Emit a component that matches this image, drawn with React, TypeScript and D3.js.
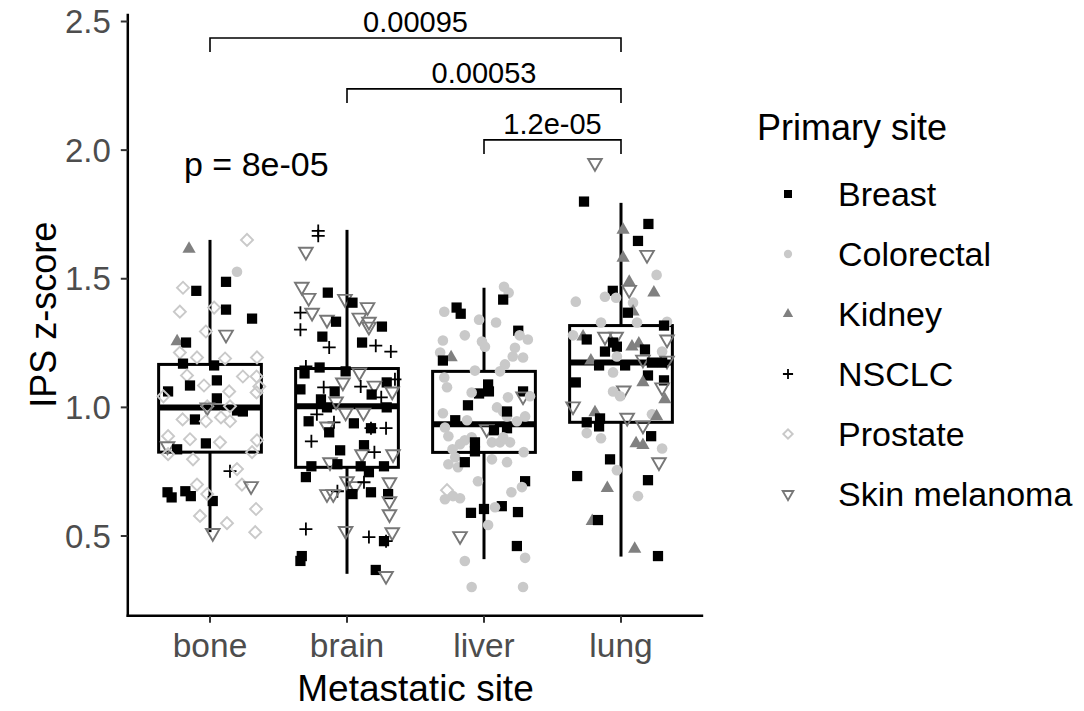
import React from 'react'
import * as d3 from 'd3'

// metastatic sites (x categories) and primary sites (shape legend)
const categories = ['bone', 'brain', 'liver', 'lung']
const sites = ['Breast', 'Colorectal', 'Kidney', 'NSCLC', 'Prostate', 'Skin melanoma']

// box statistics per metastatic site
const whiskerLow = [0.515, 0.353, 0.41, 0.42]
const q1 = [0.826, 0.767, 0.825, 0.942]
const median = [1.0, 1.004, 0.934, 1.174]
const q3 = [1.167, 1.151, 1.14, 1.318]
const whiskerHigh = [1.651, 1.69, 1.465, 1.795]

// points: [primary site index, jitter (category units), IPS z-score]
const bonePts = [
  [2, -0.153, 1.616], [4, 0.27, 1.651], [1, 0.197, 1.527], [0, 0.117, 1.488], [4, -0.197, 1.465], [0, -0.1, 1.453],
  [4, -0.22, 1.372], [4, 0.03, 1.388], [0, 0.117, 1.38], [0, 0.307, 1.345], [5, 0.117, 1.283], [4, -0.03, 1.295],
  [2, -0.24, 1.256], [0, -0.175, 1.252], [4, -0.22, 1.213], [4, -0.095, 1.194], [4, 0.11, 1.19], [4, 0.343, 1.194],
  [0, -0.197, 1.17], [0, 0.03, 1.163], [4, -0.168, 1.124], [4, 0.24, 1.12], [4, 0.34, 1.12], [0, 0.05, 1.105],
  [0, -0.146, 1.085], [4, -0.044, 1.085], [4, 0.36, 1.081], [0, -0.306, 1.062], [4, 0.14, 1.062], [4, 0.34, 1.058],
  [4, -0.34, 1.043], [0, 0.05, 1.035], [4, -0.02, 1.004], [5, -0.02, 1.0], [0, 0.197, 0.988], [0, 0.24, 0.984],
  [4, 0.146, 1.004], [4, -0.2, 0.953], [0, -0.11, 0.953], [4, -0.03, 0.946], [4, 0.08, 0.961], [4, 0.146, 0.946],
  [4, -0.306, 0.888], [4, -0.146, 0.876], [0, -0.03, 0.86], [4, 0.073, 0.864], [4, 0.343, 0.872], [5, -0.31, 0.849],
  [0, -0.24, 0.837], [4, -0.124, 0.798], [4, 0.307, 0.826], [4, -0.306, 0.818], [3, 0.146, 0.752], [4, 0.197, 0.76],
  [4, 0.233, 0.7], [5, 0.3, 0.694], [0, -0.31, 0.67], [0, -0.28, 0.65], [0, -0.18, 0.674], [0, -0.14, 0.655],
  [4, -0.095, 0.7], [0, 0.02, 0.636], [4, -0.02, 0.663], [4, 0.336, 0.605], [4, -0.073, 0.578], [4, 0.124, 0.55],
  [4, 0.33, 0.515], [5, 0.02, 0.512]
]
const brainPts = [
  [3, -0.21, 1.686], [3, -0.21, 1.667], [5, -0.3, 1.605], [5, -0.33, 1.469], [0, -0.14, 1.446], [5, -0.28, 1.426],
  [5, -0.015, 1.422], [0, 0.04, 1.407], [5, 0.15, 1.39], [5, 0.09, 1.349], [5, 0.16, 1.333], [5, 0.16, 1.314],
  [3, -0.34, 1.368], [5, -0.255, 1.368], [5, -0.146, 1.341], [0, -0.08, 1.333], [3, -0.34, 1.302], [0, 0.255, 1.314],
  [0, -0.18, 1.275], [0, 0.11, 1.252], [3, -0.13, 1.233], [3, 0.21, 1.24], [3, 0.32, 1.217], [0, -0.31, 1.132],
  [0, -0.2, 1.155], [0, -0.01, 1.14], [5, 0.09, 1.136], [3, -0.3, 1.159], [3, 0.35, 1.109], [0, 0.29, 1.097],
  [0, -0.34, 1.07], [3, -0.17, 1.078], [5, -0.03, 1.097], [3, 0.1, 1.081], [5, 0.2, 1.085], [5, 0.33, 1.062],
  [0, -0.09, 1.062], [0, 0.18, 1.05], [3, 0.25, 1.039], [0, -0.19, 1.031], [5, -0.08, 1.023], [0, -0.146, 1.0],
  [0, 0.29, 1.0], [5, -0.01, 0.98], [5, 0.12, 0.98], [3, -0.22, 0.973], [0, -0.28, 0.946], [3, -0.095, 0.942],
  [5, -0.146, 0.926], [0, -0.13, 0.903], [0, 0.05, 0.938], [0, 0.175, 0.919], [3, 0.175, 0.919], [3, 0.285, 0.919],
  [3, -0.26, 0.868], [0, -0.05, 0.833], [0, 0.124, 0.853], [5, 0.11, 0.818], [3, 0.2, 0.826], [5, 0.336, 0.818],
  [5, -0.124, 0.787], [0, -0.07, 0.779], [0, -0.26, 0.771], [0, 0.1, 0.771], [0, 0.16, 0.748], [0, 0.27, 0.771],
  [0, -0.3, 0.729], [5, 0, 0.713], [5, 0.06, 0.694], [3, 0.124, 0.709], [5, 0.31, 0.709], [3, -0.07, 0.674],
  [5, -0.146, 0.663], [5, -0.1, 0.663], [0, 0.04, 0.663], [0, 0.175, 0.67], [0, 0.3, 0.663], [5, 0.31, 0.636],
  [5, 0.31, 0.585], [3, -0.3, 0.527], [5, -0.01, 0.52], [5, 0.33, 0.515], [3, 0.16, 0.496], [3, 0.285, 0.48],
  [0, 0.27, 0.48], [0, -0.33, 0.422], [0, -0.34, 0.403], [0, 0.21, 0.368], [5, 0.285, 0.345]
]
const liverPts = [
  [1, 0.146, 1.469], [1, 0.18, 1.446], [0, 0.14, 1.419], [0, -0.2, 1.388], [0, -0.17, 1.364], [1, -0.29, 1.372],
  [1, -0.036, 1.341], [1, 0.088, 1.33], [0, 0.25, 1.298], [1, -0.14, 1.28], [1, 0.26, 1.28], [1, 0.32, 1.264],
  [1, -0.3, 1.26], [1, -0.015, 1.256], [1, 0.007, 1.236], [1, 0.226, 1.232], [1, -0.32, 1.213], [2, -0.24, 1.194],
  [0, -0.3, 1.182], [1, 0.21, 1.198], [1, 0.285, 1.194], [1, 0.153, 1.167], [1, 0.117, 1.14], [1, -0.066, 1.143],
  [1, -0.29, 1.116], [1, -0.27, 1.078], [0, 0.03, 1.089], [0, 0.036, 1.062], [0, -0.036, 1.054], [1, -0.09, 1.058],
  [0, 0.285, 1.062], [5, 0.285, 1.043], [1, 0.336, 1.043], [1, 0.175, 1.039], [0, -0.117, 1.008], [1, 0.095, 1.0],
  [1, 0.14, 0.984], [1, 0.168, 0.965], [1, 0.24, 0.946], [1, 0.3, 0.965], [0, 0.168, 0.984], [1, -0.3, 0.977],
  [0, -0.21, 0.95], [1, -0.124, 0.95], [5, 0.02, 0.915], [0, 0.073, 0.911], [0, 0.168, 0.919], [1, -0.285, 0.922],
  [1, -0.26, 0.888], [1, -0.09, 0.884], [1, -0.14, 0.872], [1, -0.175, 0.857], [1, -0.23, 0.837], [1, -0.21, 0.806],
  [1, -0.26, 0.779], [1, -0.19, 0.767], [0, -0.066, 0.864], [0, -0.066, 0.829], [1, 0.058, 0.864], [1, 0.117, 0.864],
  [1, 0.19, 0.864], [1, 0.14, 0.884], [1, 0.29, 0.826], [1, 0.058, 0.798], [1, 0.168, 0.787], [0, -0.14, 0.787],
  [1, -0.044, 0.713], [0, 0.3, 0.713], [1, 0.277, 0.69], [1, 0.2, 0.67], [4, -0.27, 0.678], [1, -0.285, 0.643],
  [1, -0.226, 0.655], [1, -0.175, 0.647], [0, -0.095, 0.59], [0, 0, 0.605], [0, 0.13, 0.616], [1, 0.08, 0.612],
  [0, 0.248, 0.593], [1, 0.03, 0.543], [5, -0.175, 0.5], [0, 0.24, 0.461], [1, 0.3, 0.415], [1, -0.14, 0.403],
  [1, -0.09, 0.302], [1, 0.285, 0.302]
]
const lungPts = [
  [5, -0.19, 1.95], [0, -0.27, 1.8], [0, 0.2, 1.713], [2, 0.015, 1.69], [0, 0.124, 1.647], [5, 0.19, 1.593],
  [2, 0.015, 1.581], [1, 0.26, 1.515], [2, 0.06, 1.488], [5, 0.06, 1.457], [2, 0.24, 1.446], [0, -0.06, 1.453],
  [1, -0.117, 1.43], [1, -0.036, 1.426], [1, -0.33, 1.411], [1, 0.088, 1.407], [2, 0.088, 1.372], [0, 0.05, 1.368],
  [1, -0.146, 1.33], [1, 0.117, 1.33], [1, 0.336, 1.333], [0, 0.314, 1.318], [1, -0.35, 1.28], [2, -0.277, 1.275],
  [5, -0.117, 1.275], [5, -0.036, 1.275], [0, -0.25, 1.264], [0, -0.058, 1.252], [0, -0.03, 1.236], [5, 0.336, 1.264],
  [2, 0.08, 1.236], [2, 0.13, 1.248], [0, -0.117, 1.217], [0, 0.175, 1.225], [1, 0.3, 1.217], [1, -0.03, 1.198],
  [5, 0.16, 1.186], [2, -0.22, 1.182], [5, 0.336, 1.182], [0, -0.16, 1.163], [0, 0.03, 1.163], [0, 0.226, 1.174],
  [0, 0.3, 1.174], [1, -0.058, 1.136], [0, 0.197, 1.124], [2, 0.16, 1.097], [0, -0.33, 1.097], [0, 0.314, 1.105],
  [5, 0.3, 1.078], [5, 0.02, 1.066], [1, -0.058, 1.062], [1, -0.007, 1.043], [2, 0.32, 1.031], [5, -0.35, 1.004],
  [2, -0.19, 0.98], [1, 0.226, 0.973], [2, 0.26, 0.965], [5, 0.045, 0.96], [0, -0.25, 0.942], [0, -0.153, 0.957],
  [0, -0.16, 0.926], [5, 0.16, 0.93], [1, -0.25, 0.9], [1, -0.146, 0.88], [0, 0.22, 0.888], [2, 0.11, 0.86],
  [2, 0.16, 0.853], [1, 0.3, 0.84], [5, 0.277, 0.787], [0, -0.08, 0.798], [1, -0.03, 0.756], [0, -0.32, 0.733],
  [0, 0.197, 0.717], [2, -0.1, 0.686], [1, 0.124, 0.655], [2, -0.21, 0.558], [0, -0.168, 0.562], [2, 0.1, 0.45],
  [0, 0.27, 0.422]
]
const points = [bonePts, brainPts, liverPts, lungPts]

// pairwise comparisons: [from group, to group, label, bracket level]
const comparisons = [
  [1, 4, '0.00095', 2.436],
  [2, 4, '0.00053', 2.238],
  [3, 4, '1.2e-05', 2.04]
]
const globalLabel = 'p = 8e-05'
const yTicks = [0.5, 1.0, 1.5, 2.0, 2.5]

const W = 1084
const H = 711
const FONT = '"Liberation Sans", Arial, Helvetica, sans-serif'

const x = d3.scaleLinear().domain([1, 4]).range([210, 621])
const y = d3.scaleLinear().domain([0.5, 2.5]).range([536, 21.5])
const xLimits = [0.4, 4.6]
const yLimits = [0.19, 2.53]

const siteColor = ['#000000', '#c9c9c9', '#808080', '#000000', '#c9c9c9', '#777777']

const squarePath = (s) => d3.symbol().type(d3.symbolSquare).size(s)()
const trianglePath = (s) => d3.symbol().type(d3.symbolTriangle).size(s)()

const Marker = ({ site, cx, cy, k = 1 }) => {
  const col = siteColor[site]
  const t = `translate(${cx},${cy})`
  if (site === 0) return <path transform={t} d={squarePath(105 * k * k)} fill={col} />
  if (site === 1) return <circle cx={cx} cy={cy} r={5.3 * k} fill={col} />
  if (site === 2) return <path transform={t} d={trianglePath(76 * k * k)} fill={col} />
  if (site === 3) {
    const a = 6.5 * k
    return <path transform={t} d={`M${-a},0H${a}M0,${-a}V${a}`} stroke={col} strokeWidth={1.8} fill="none" />
  }
  if (site === 4)
    return <path transform={t + ' rotate(45)'} d={squarePath(72 * k * k)} fill="none" stroke={col} strokeWidth={1.9} />
  return <path transform={t + ' rotate(180)'} d={trianglePath(80 * k * k)} fill="none" stroke={col} strokeWidth={1.9} />
}

export default function App() {
  const boxHalf = 0.375
  return (
    <svg width={W} height={H} style={{ display: 'block', background: '#fff', margin: -8 }} fontFamily={FONT}>
      {/* boxes */}
      {categories.map((c, i) => {
        const cx = x(i + 1)
        const x0 = x(i + 1 - boxHalf)
        const x1 = x(i + 1 + boxHalf)
        return (
          <g key={c} stroke="#000" fill="none">
            <line x1={cx} x2={cx} y1={y(whiskerHigh[i])} y2={y(q3[i])} strokeWidth={3} />
            <line x1={cx} x2={cx} y1={y(q1[i])} y2={y(whiskerLow[i])} strokeWidth={3} />
            <rect x={x0} y={y(q3[i])} width={x1 - x0} height={y(q1[i]) - y(q3[i])} strokeWidth={3} fill="#fff" />
            <line x1={x0} x2={x1} y1={y(median[i])} y2={y(median[i])} strokeWidth={6} />
          </g>
        )
      })}

      {/* jittered points */}
      {points.map((pts, i) =>
        pts.map((p, j) => <Marker key={i + '-' + j} site={p[0]} cx={x(i + 1 + p[1])} cy={y(p[2])} />)
      )}

      {/* axes */}
      <line x1={x(xLimits[0])} x2={x(xLimits[0])} y1={y(yLimits[1])} y2={y(yLimits[0]) + 1.2} stroke="#000" strokeWidth={2.5} />
      <line x1={x(xLimits[0]) - 1.2} x2={x(xLimits[1])} y1={y(yLimits[0])} y2={y(yLimits[0])} stroke="#000" strokeWidth={2.5} />
      {yTicks.map((t) => (
        <g key={t}>
          <line x1={x(xLimits[0]) - 7} x2={x(xLimits[0])} y1={y(t)} y2={y(t)} stroke="#333" strokeWidth={2} />
          <text x={x(xLimits[0]) - 17} y={y(t)} dy="0.35em" textAnchor="end" fontSize={33} fill="#4d4d4d">
            {d3.format('.1f')(t)}
          </text>
        </g>
      ))}
      {categories.map((c, i) => (
        <g key={c}>
          <line x1={x(i + 1)} x2={x(i + 1)} y1={y(yLimits[0])} y2={y(yLimits[0]) + 7} stroke="#333" strokeWidth={2} />
          <text x={x(i + 1)} y={657} textAnchor="middle" fontSize={33.5} fill="#4d4d4d">
            {c}
          </text>
        </g>
      ))}
      <text x={(x(xLimits[0]) + x(xLimits[1])) / 2} y={701} textAnchor="middle" fontSize={37} fill="#000">
        Metastatic site
      </text>
      <text
        transform={`translate(56,${(y(yLimits[0]) + y(yLimits[1])) / 2}) rotate(-90)`}
        textAnchor="middle"
        fontSize={36}
        fill="#000"
      >
        IPS z-score
      </text>

      {/* comparison brackets */}
      {comparisons.map(([a, b, lab, lv]) => {
        const yl = y(lv)
        const tip = y(lv - 0.055)
        return (
          <g key={lab}>
            <path d={`M${x(a)},${tip}V${yl}H${x(b)}V${tip}`} fill="none" stroke="#000" strokeWidth={1.6} />
            <text x={(x(a) + x(b)) / 2} y={yl - 6} textAnchor="middle" fontSize={29} fill="#000">
              {lab}
            </text>
          </g>
        )
      })}
      <text x={x(0.81)} y={y(1.9)} fontSize={34} fill="#000">
        {globalLabel}
      </text>

      {/* legend */}
      <text x={757} y={140} fontSize={36} fill="#000">
        Primary site
      </text>
      {sites.map((s, i) => (
        <g key={s}>
          <Marker site={i} cx={788} cy={194 + i * 60} k={0.78} />
          <text x={838} y={194 + i * 60} dy="0.36em" fontSize={34} fill="#000">
            {s}
          </text>
        </g>
      ))}
    </svg>
  )
}
